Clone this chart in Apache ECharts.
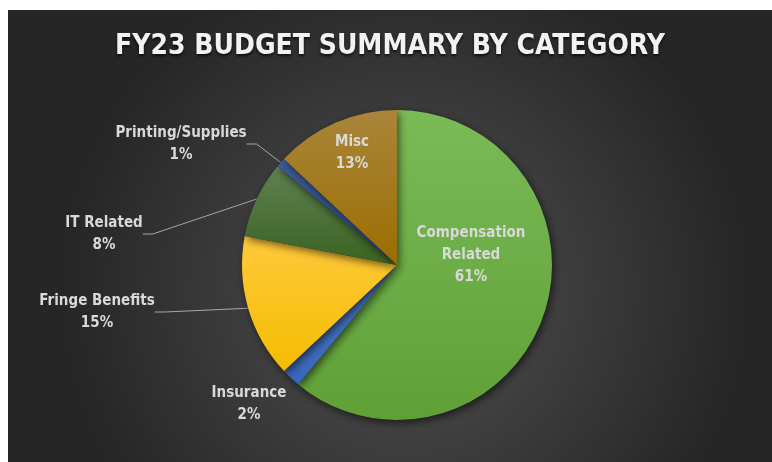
<!DOCTYPE html>
<html>
<head>
<meta charset="utf-8">
<script src="https://cdn.jsdelivr.net/npm/echarts@6/dist/echarts.min.js"></script>
<style>
  html, body { margin: 0; padding: 0; background: #ffffff; }
  #chart { position: absolute; left: 8px; top: 10px; width: 764px; height: 452px; }
</style>
</head>
<body>
<div id="chart"></div>
<script>
  // data
  var categories = ['Compensation Related', 'Insurance', 'Fringe Benefits', 'IT Related', 'Printing/Supplies', 'Misc'];
  var shares = [61, 2, 15, 8, 1, 13];
  var labelNames = ['Compensation\nRelated', 'Insurance', 'Fringe Benefits', 'IT Related', 'Printing/Supplies', 'Misc'];

  // styling
  var topColors = ['#7abb58', '#4a78c8', '#ffc93c', '#5f8150', '#3d5c9c', '#aa853a'];
  var bottomColors = ['#5fa036', '#3966b8', '#f5bc00', '#3a6322', '#2d4a86', '#9b6e00'];
  var labelPos = [[463, 245], [241, 394], [89, 302], [96, 224], [173, 134], [344, 143]];
  var fontFam = "'Liberation Sans Narrow', 'DejaVu Sans Condensed', 'Roboto', sans-serif";

  var myChart = echarts.init(document.getElementById('chart'));

  var seriesData = categories.map(function (name, i) {
    return {
      name: name,
      value: shares[i],
      itemStyle: {
        color: {
          type: 'linear', x: 0, y: 0, x2: 0, y2: 1,
          colorStops: [{offset: 0, color: topColors[i]}, {offset: 1, color: bottomColors[i]}]
        }
      },
      label: {
        formatter: labelNames[i] + '\n{d}%'
      },
      labelLine: {
        show: (i >= 2 && i <= 4)
      }
    };
  });

  var option = {
    backgroundColor: {
      type: 'radial', x: 0.52, y: 0.62, r: 0.75,
      colorStops: [
        {offset: 0, color: '#525252'},
        {offset: 1, color: '#262626'}
      ]
    },
    title: {
      text: 'FY23 BUDGET SUMMARY BY CATEGORY',
      left: 'center',
      top: 18,
      textStyle: {
        color: '#f2f2f2',
        fontFamily: fontFam,
        fontWeight: 'bold',
        fontSize: 28,
        textShadowColor: 'rgba(0,0,0,0.7)',
        textShadowBlur: 3,
        textShadowOffsetY: 2
      }
    },
    series: [{
      type: 'pie',
      center: [389, 255],
      radius: 155,
      startAngle: 90,
      clockwise: true,
      percentPrecision: 0,
      avoidLabelOverlap: false,
      itemStyle: {
        shadowColor: 'rgba(0,0,0,0.6)',
        shadowBlur: 8,
        shadowOffsetX: 2,
        shadowOffsetY: 3
      },
      label: {
        show: true,
        position: 'outside',
        color: '#d9d9d9',
        fontFamily: fontFam,
        fontWeight: 'bold',
        fontSize: 15,
        lineHeight: 22,
        align: 'center'
      },
      labelLine: {
        length: 10,
        length2: 10,
        lineStyle: {color: '#a6a6a6', width: 1}
      },
      labelLayout: function (params) {
        var p = labelPos[params.dataIndex];
        return {
          x: p[0],
          y: p[1],
          align: 'center',
          verticalAlign: 'middle'
        };
      },
      data: seriesData
    }]
  };
  myChart.setOption(option);
</script>
</body>
</html>
